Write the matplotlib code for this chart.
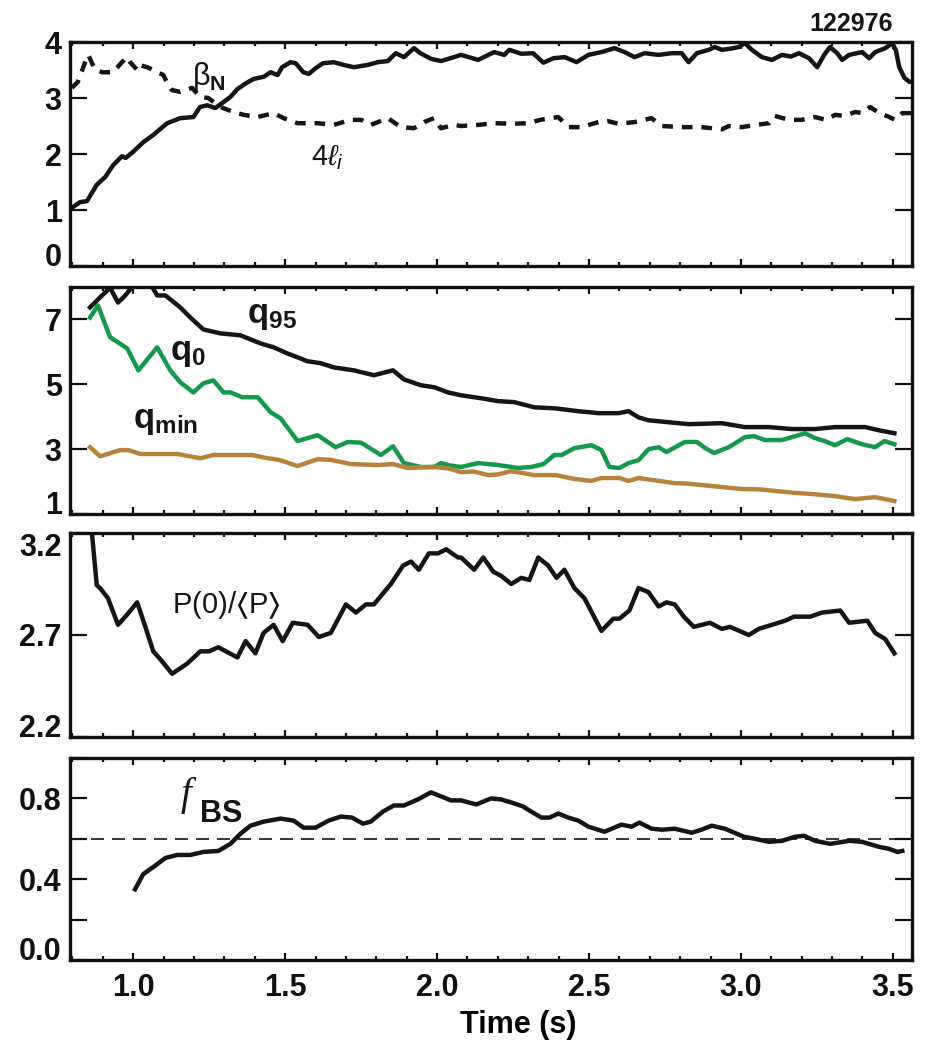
import matplotlib
matplotlib.use("Agg")
import matplotlib.pyplot as plt
from matplotlib.ticker import MultipleLocator, FixedLocator, NullFormatter

plt.rcParams['font.family'] = ['Liberation Sans', 'DejaVu Sans']
plt.rcParams['font.weight'] = 'bold'
plt.rcParams['mathtext.fontset'] = 'custom'
plt.rcParams['mathtext.rm'] = 'Liberation Sans:normal'
plt.rcParams['mathtext.bf'] = 'Liberation Sans:bold'
plt.rcParams['mathtext.it'] = 'Liberation Sans:italic:normal'
plt.rcParams['mathtext.fallback'] = 'stixsans'

# ---- beta_N and 4 l_i
t_betan = [0.798, 0.825, 0.848, 0.88, 0.908, 0.934, 0.963, 0.975, 1.0, 1.033, 1.066, 1.112,
           1.155, 1.198, 1.22, 1.244, 1.27, 1.293, 1.32, 1.343, 1.37, 1.396, 1.43, 1.452,
           1.475, 1.49, 1.518, 1.535, 1.56, 1.578, 1.6, 1.624, 1.66, 1.693, 1.726, 1.772,
           1.805, 1.838, 1.864, 1.891, 1.924, 1.945, 1.98, 2.013, 2.056, 2.079, 2.135,
           2.188, 2.221, 2.238, 2.277, 2.316, 2.35, 2.383, 2.42, 2.459, 2.498, 2.541,
           2.584, 2.617, 2.65, 2.683, 2.729, 2.772, 2.805, 2.828, 2.855, 2.894, 2.914,
           2.937, 2.965, 2.993, 3.013, 3.036, 3.069, 3.102, 3.135, 3.165, 3.191, 3.224,
           3.251, 3.274, 3.293, 3.317, 3.333, 3.356, 3.399, 3.422, 3.442, 3.475, 3.498,
           3.51, 3.521, 3.538, 3.554, 3.57]
betan = [1.04, 1.14, 1.16, 1.45, 1.59, 1.80, 1.96, 1.93, 2.04, 2.21, 2.34, 2.55,
         2.64, 2.66, 2.84, 2.87, 2.82, 2.91, 3.02, 3.16, 3.26, 3.34, 3.38, 3.46,
         3.41, 3.55, 3.64, 3.62, 3.46, 3.43, 3.53, 3.62, 3.64, 3.59, 3.55, 3.59,
         3.64, 3.66, 3.80, 3.73, 3.89, 3.80, 3.70, 3.66, 3.73, 3.77, 3.68,
         3.82, 3.77, 3.86, 3.79, 3.80, 3.63, 3.71, 3.73, 3.64, 3.77, 3.82,
         3.89, 3.82, 3.73, 3.80, 3.77, 3.80, 3.80, 3.64, 3.80, 3.86, 3.91,
         3.86, 3.88, 3.91, 3.98, 3.86, 3.73, 3.68, 3.77, 3.74, 3.80, 3.71,
         3.55, 3.77, 3.91, 3.80, 3.68, 3.77, 3.82, 3.71, 3.82, 3.89, 3.98,
         3.85, 3.55, 3.36, 3.29, 3.29]

t_li = [0.798, 0.818, 0.842, 0.852, 0.875, 0.898, 0.934, 0.963, 0.98, 0.99, 1.013, 1.02,
        1.046, 1.066, 1.099, 1.112, 1.128, 1.155, 1.194, 1.22, 1.247, 1.287, 1.33,
        1.363, 1.41, 1.462, 1.495, 1.541, 1.607, 1.66, 1.716, 1.75, 1.782, 1.838,
        1.881, 1.924, 1.957, 1.99, 2.013, 2.056, 2.079, 2.135, 2.188, 2.25, 2.3,
        2.34, 2.399, 2.432, 2.475, 2.531, 2.56, 2.597, 2.65, 2.706, 2.739, 2.805,
        2.87, 2.937, 2.96, 3.003, 3.05, 3.092, 3.112, 3.158, 3.2, 3.244, 3.28, 3.31,
        3.34, 3.376, 3.4, 3.425, 3.455, 3.48, 3.508, 3.531, 3.57]
li4 = [3.18, 3.29, 3.64, 3.77, 3.50, 3.46, 3.46, 3.64, 3.73, 3.64, 3.50, 3.59,
       3.55, 3.50, 3.41, 3.27, 3.14, 3.11, 3.18, 3.02, 3.00, 2.84, 2.75,
       2.70, 2.66, 2.73, 2.64, 2.55, 2.55, 2.52, 2.61, 2.61, 2.52, 2.64,
       2.48, 2.46, 2.57, 2.64, 2.46, 2.52, 2.50, 2.52, 2.55, 2.54, 2.55,
       2.61, 2.66, 2.48, 2.48, 2.57, 2.59, 2.54, 2.57, 2.64, 2.50, 2.48,
       2.48, 2.44, 2.50, 2.48, 2.52, 2.55, 2.68, 2.61, 2.61, 2.66, 2.61, 2.70,
       2.68, 2.75, 2.73, 2.84, 2.73, 2.68, 2.61, 2.73, 2.73]

# ---- safety factors
t_q95 = [0.858, 0.891, 0.924, 0.95, 0.975, 1.0, 1.03, 1.05, 1.066, 1.079, 1.106, 1.155,
         1.188, 1.231, 1.287, 1.353, 1.419, 1.462, 1.508, 1.574, 1.617, 1.66, 1.726,
         1.792, 1.855, 1.891, 1.947, 1.99, 2.036, 2.079, 2.145, 2.201, 2.254, 2.32,
         2.386, 2.465, 2.531, 2.597, 2.63, 2.663, 2.696, 2.762, 2.828, 2.937, 3.013,
         3.092, 3.168, 3.244, 3.31, 3.409, 3.455, 3.505]
q95 = [7.37, 7.68, 7.98, 7.52, 7.75, 8.05, 8.2, 8.1, 7.95, 7.74, 7.74, 7.37,
       7.06, 6.69, 6.57, 6.51, 6.26, 6.14, 5.95, 5.71, 5.65, 5.52, 5.43,
       5.28, 5.43, 5.15, 4.97, 4.91, 4.75, 4.66, 4.57, 4.48, 4.45, 4.29,
       4.26, 4.17, 4.11, 4.11, 4.17, 3.98, 3.89, 3.83, 3.77, 3.80, 3.68,
       3.68, 3.62, 3.62, 3.68, 3.68, 3.58, 3.49]

t_q0 = [0.858, 0.884, 0.924, 0.98, 1.017, 1.045, 1.079, 1.122, 1.155, 1.198, 1.231, 1.264,
        1.297, 1.32, 1.359, 1.41, 1.452, 1.485, 1.541, 1.607, 1.666, 1.706, 1.75,
        1.815, 1.855, 1.891, 1.947, 1.99, 2.013, 2.04, 2.079, 2.135, 2.201, 2.267,
        2.31, 2.35, 2.386, 2.41, 2.452, 2.508, 2.541, 2.567, 2.6, 2.63, 2.663,
        2.696, 2.729, 2.755, 2.815, 2.855, 2.88, 2.911, 2.96, 3.013, 3.043, 3.079,
        3.135, 3.211, 3.244, 3.275, 3.31, 3.35, 3.399, 3.442, 3.472, 3.505]
q0 = [7.06, 7.43, 6.45, 6.11, 5.43, 5.75, 6.14, 5.43, 5.06, 4.75, 5.03, 5.12,
      4.75, 4.75, 4.60, 4.60, 4.14, 3.95, 3.25, 3.43, 3.06, 3.22, 3.20,
      2.82, 3.09, 2.57, 2.45, 2.45, 2.57, 2.50, 2.45, 2.57, 2.51, 2.42,
      2.45, 2.54, 2.82, 2.82, 3.03, 3.12, 2.97, 2.45, 2.42, 2.57, 2.66,
      3.00, 3.06, 2.91, 3.22, 3.22, 3.05, 2.88, 3.06, 3.37, 3.40, 3.28,
      3.28, 3.49, 3.34, 3.25, 3.12, 3.31, 3.15, 3.06, 3.25, 3.15]

t_qmin = [0.858, 0.891, 0.957, 0.985, 1.023, 1.145, 1.221, 1.264, 1.353, 1.39, 1.442,
          1.48, 1.541, 1.607, 1.65, 1.716, 1.805, 1.855, 1.904, 1.99, 2.04, 2.079,
          2.12, 2.168, 2.2, 2.244, 2.32, 2.39, 2.452, 2.508, 2.541, 2.6, 2.63,
          2.663, 2.782, 2.82, 3.003, 3.06, 3.178, 3.23, 3.31, 3.376, 3.442, 3.505]
qmin = [3.06, 2.78, 2.97, 2.97, 2.85, 2.85, 2.72, 2.82, 2.82, 2.82, 2.72,
        2.67, 2.48, 2.69, 2.67, 2.54, 2.51, 2.54, 2.42, 2.45, 2.40, 2.29,
        2.31, 2.20, 2.22, 2.32, 2.20, 2.20, 2.08, 2.02, 2.11, 2.11, 2.02,
        2.11, 1.95, 1.94, 1.77, 1.76, 1.65, 1.62, 1.55, 1.46, 1.52, 1.40]

# ---- pressure peaking
t_pk = [0.858, 0.88, 0.891, 0.917, 0.95, 0.98, 1.013, 1.04, 1.066, 1.09, 1.128, 1.178,
        1.221, 1.25, 1.28, 1.343, 1.37, 1.402, 1.429, 1.462, 1.492, 1.525, 1.574,
        1.611, 1.65, 1.7, 1.733, 1.766, 1.792, 1.848, 1.888, 1.914, 1.94, 1.973,
        2.003, 2.03, 2.069, 2.079, 2.122, 2.152, 2.185, 2.211, 2.244, 2.277, 2.304,
        2.333, 2.366, 2.393, 2.419, 2.452, 2.485, 2.541, 2.58, 2.60, 2.633, 2.663,
        2.696, 2.729, 2.755, 2.782, 2.812, 2.845, 2.898, 2.937, 2.964, 3.026, 3.059,
        3.145, 3.175, 3.228, 3.267, 3.327, 3.356, 3.416, 3.442, 3.475, 3.505]
peak = [3.30, 2.945, 2.93, 2.88, 2.75, 2.80, 2.86, 2.74, 2.62, 2.58, 2.51, 2.56,
        2.62, 2.62, 2.64, 2.59, 2.67, 2.61, 2.71, 2.75, 2.67, 2.76, 2.75,
        2.69, 2.71, 2.85, 2.81, 2.85, 2.85, 2.95, 3.04, 3.06, 3.02, 3.10,
        3.10, 3.12, 3.08, 3.08, 3.02, 3.08, 3.01, 2.99, 2.95, 2.98, 2.97,
        3.08, 3.04, 2.98, 3.02, 2.93, 2.88, 2.72, 2.78, 2.78, 2.82, 2.93,
        2.91, 2.84, 2.86, 2.85, 2.79, 2.74, 2.76, 2.73, 2.74, 2.70, 2.73,
        2.77, 2.79, 2.79, 2.81, 2.82, 2.76, 2.77, 2.71, 2.68, 2.61]

# ---- bootstrap fraction
t_fbs = [1.006, 1.033, 1.066, 1.106, 1.145, 1.188, 1.231, 1.28, 1.32, 1.353, 1.386,
         1.429, 1.485, 1.528, 1.561, 1.6, 1.643, 1.683, 1.72, 1.756, 1.782, 1.822,
         1.858, 1.891, 1.937, 1.98, 2.013, 2.046, 2.079, 2.129, 2.178, 2.21, 2.244,
         2.283, 2.304, 2.343, 2.37, 2.399, 2.432, 2.465, 2.498, 2.551, 2.607, 2.64,
         2.666, 2.706, 2.74, 2.782, 2.838, 2.87, 2.904, 2.947, 3.01, 3.046, 3.092,
         3.135, 3.178, 3.208, 3.244, 3.294, 3.356, 3.399, 3.455, 3.488, 3.515, 3.531]
fbs = [0.35, 0.425, 0.46, 0.505, 0.52, 0.52, 0.535, 0.54, 0.575, 0.625, 0.665,
       0.685, 0.70, 0.69, 0.655, 0.655, 0.69, 0.71, 0.705, 0.675, 0.685, 0.735,
       0.765, 0.765, 0.795, 0.83, 0.81, 0.79, 0.79, 0.77, 0.80, 0.795, 0.78,
       0.76, 0.74, 0.705, 0.705, 0.725, 0.705, 0.69, 0.66, 0.635, 0.67, 0.66,
       0.68, 0.65, 0.645, 0.65, 0.63, 0.645, 0.665, 0.65, 0.61, 0.60, 0.585,
       0.59, 0.61, 0.615, 0.59, 0.575, 0.59, 0.585, 0.56, 0.55, 0.535, 0.54]
fbs_ref = 0.6

black = '#151515'
green = '#14994a'
brown = '#b8823c'
lw = 3.2

fig = plt.figure(figsize=(9.27, 10.43), dpi=100)
W, H = 927.0, 1043.0
left, right = 70, 912


def panel(top, bottom):
    return fig.add_axes([left / W, 1 - bottom / H, (right - left) / W, (bottom - top) / H])


def edge_labels(ax, first='baseline', last=None):
    # keep the end labels inside the frame so neighbouring panels don't collide
    ticks = ax.yaxis.get_major_ticks()
    if first:
        ticks[0].label1.set_va(first)
    if last:
        ticks[-1].label1.set_va(last)


ax1 = panel(42, 266)
ax2 = panel(287, 514)
ax3 = panel(533, 737)
ax4 = panel(758, 960)
axes = [ax1, ax2, ax3, ax4]

for ax in axes:
    ax.set_xlim(0.792, 3.563)
    ax.xaxis.set_major_locator(MultipleLocator(0.5))
    ax.xaxis.set_minor_locator(MultipleLocator(0.1))
    ax.tick_params(axis='both', which='both', direction='in', top=True, right=True,
                   labelsize=22, width=1.6, colors='#111111')
    ax.tick_params(axis='x', which='major', length=5)
    ax.tick_params(axis='x', which='minor', length=3)
    ax.tick_params(axis='y', which='major', length=12, pad=6)
    ax.tick_params(axis='y', which='minor', length=0)
    ax.tick_params(axis='x', pad=9)
    for s in ax.spines.values():
        s.set_linewidth(2.4)
        s.set_color('#111111')
    if ax is not ax4:
        ax.xaxis.set_major_formatter(NullFormatter())

# panel 1
ax1.plot(t_betan, betan, color=black, lw=lw, solid_joinstyle='round')
ax1.plot(t_li, li4, color=black, lw=lw, ls=(0, (2.4, 2.0)))
ax1.set_ylim(0, 4)
ax1.yaxis.set_major_locator(FixedLocator([0, 1, 2, 3, 4]))
edge_labels(ax1)
ax1.text(1.193, 3.24, r'$\mathrm{\beta}_{\mathbf{N}}$', fontsize=22, color=black)
ax1.text(1.584, 1.80, r'$4\ell_i$', fontsize=21, color=black)
ax1.text(0.977, 1.05, '122976', transform=ax1.transAxes, ha='right', va='baseline',
         fontsize=18, color=black)

# panel 2
ax2.plot(t_q95, q95, color=black, lw=lw, solid_joinstyle='round')
ax2.plot(t_q0, q0, color=green, lw=lw, solid_joinstyle='round')
ax2.plot(t_qmin, qmin, color=brown, lw=lw, solid_joinstyle='round')
ax2.set_ylim(1, 8)
ax2.yaxis.set_major_locator(FixedLocator([1, 3, 5, 7]))
edge_labels(ax2)
ax2.text(1.376, 6.88, r'$\mathbf{q_{95}}$', fontsize=25, color=black)
ax2.text(1.122, 5.74, r'$\mathbf{q_{0}}$', fontsize=25, color=black)
ax2.text(1.0, 3.65, r'$\mathbf{q_{min}}$', fontsize=25, color=black)

# panel 3
ax3.plot(t_pk, peak, color=black, lw=lw, solid_joinstyle='round')
ax3.set_ylim(2.2, 3.2)
ax3.yaxis.set_major_locator(FixedLocator([2.2, 2.7, 3.2]))
edge_labels(ax3, last='top')
ax3.text(1.129, 2.81, r'P(0)/$\langle$P$\rangle$', fontsize=21, color=black,
         fontweight='normal')

# panel 4
ax4.plot(t_fbs, fbs, color=black, lw=lw, solid_joinstyle='round')
ax4.axhline(fbs_ref, color=black, lw=1.2, ls=(0, (7.8, 4.8)))
ax4.set_ylim(0, 1.0)
ax4.yaxis.set_major_locator(FixedLocator([0.0, 0.2, 0.4, 0.6, 0.8, 1.0]))
ax4.set_yticklabels(['0.0', '', '0.4', '', '0.8', ''])
edge_labels(ax4)
ax4.text(1.155, 0.765, 'f', fontsize=28, color=black, family='Liberation Serif',
         style='italic', fontweight='normal')
ax4.text(1.221, 0.685, 'BS', fontsize=22, color=black)
ax4.set_xlabel('Time (s)', fontsize=22, fontweight='bold')
ax4.xaxis.set_label_coords(0.532, -0.25)

fig.savefig('out.png', dpi=100)
